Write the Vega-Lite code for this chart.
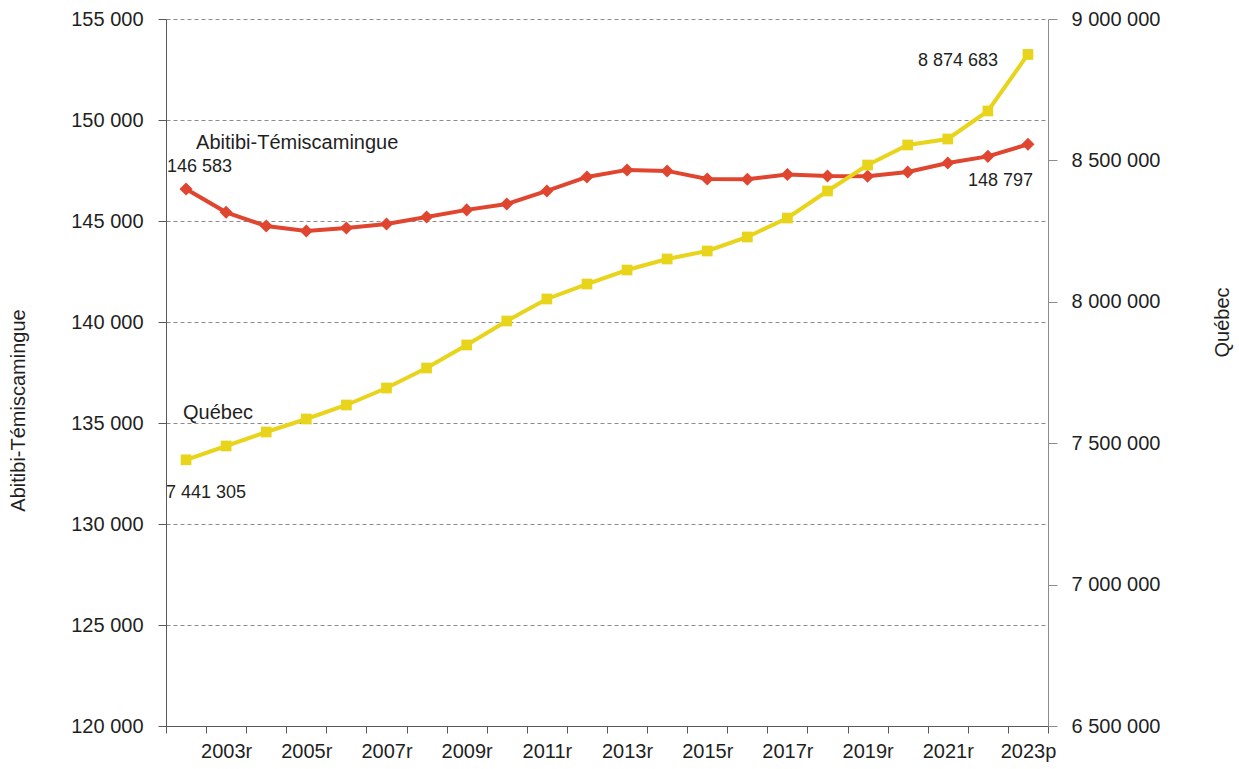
{
  "$schema": "https://vega.github.io/schema/vega-lite/v6.json",
  "width": 882,
  "height": 707,
  "autosize": "none",
  "padding": {"left": 166, "top": 19, "right": 191, "bottom": 43},
  "background": "white",
  "config": {
    "locale": {"number": {"decimal": ",", "thousands": " ", "grouping": [3], "currency": ["", " $"]}},
    "font": "Liberation Sans",
    "view": {"stroke": null},
    "axis": {
      "labelFont": "Liberation Sans",
      "titleFont": "Liberation Sans",
      "labelFontSize": 20,
      "titleFontSize": 20,
      "titleFontWeight": "normal",
      "labelColor": "#1f1f1f",
      "titleColor": "#1f1f1f"
    }
  },
  "datasets": {
    "pop": [
      {"year": 2002, "region": "Abitibi-Témiscamingue", "value": 146583},
      {"year": 2003, "region": "Abitibi-Témiscamingue", "value": 145430},
      {"year": 2004, "region": "Abitibi-Témiscamingue", "value": 144750},
      {"year": 2005, "region": "Abitibi-Témiscamingue", "value": 144500},
      {"year": 2006, "region": "Abitibi-Témiscamingue", "value": 144650},
      {"year": 2007, "region": "Abitibi-Témiscamingue", "value": 144850},
      {"year": 2008, "region": "Abitibi-Témiscamingue", "value": 145200},
      {"year": 2009, "region": "Abitibi-Témiscamingue", "value": 145550},
      {"year": 2010, "region": "Abitibi-Témiscamingue", "value": 145840},
      {"year": 2011, "region": "Abitibi-Témiscamingue", "value": 146490},
      {"year": 2012, "region": "Abitibi-Témiscamingue", "value": 147180},
      {"year": 2013, "region": "Abitibi-Témiscamingue", "value": 147530},
      {"year": 2014, "region": "Abitibi-Témiscamingue", "value": 147480},
      {"year": 2015, "region": "Abitibi-Témiscamingue", "value": 147080},
      {"year": 2016, "region": "Abitibi-Témiscamingue", "value": 147070},
      {"year": 2017, "region": "Abitibi-Témiscamingue", "value": 147300},
      {"year": 2018, "region": "Abitibi-Témiscamingue", "value": 147230},
      {"year": 2019, "region": "Abitibi-Témiscamingue", "value": 147220},
      {"year": 2020, "region": "Abitibi-Témiscamingue", "value": 147430},
      {"year": 2021, "region": "Abitibi-Témiscamingue", "value": 147870},
      {"year": 2022, "region": "Abitibi-Témiscamingue", "value": 148200},
      {"year": 2023, "region": "Abitibi-Témiscamingue", "value": 148797},
      {"year": 2002, "region": "Québec", "value": 7441305},
      {"year": 2003, "region": "Québec", "value": 7490100},
      {"year": 2004, "region": "Québec", "value": 7539600},
      {"year": 2005, "region": "Québec", "value": 7585600},
      {"year": 2006, "region": "Québec", "value": 7635100},
      {"year": 2007, "region": "Québec", "value": 7695200},
      {"year": 2008, "region": "Québec", "value": 7765900},
      {"year": 2009, "region": "Québec", "value": 7847300},
      {"year": 2010, "region": "Québec", "value": 7932100},
      {"year": 2011, "region": "Québec", "value": 8009900},
      {"year": 2012, "region": "Québec", "value": 8062900},
      {"year": 2013, "region": "Québec", "value": 8112400},
      {"year": 2014, "region": "Québec", "value": 8151400},
      {"year": 2015, "region": "Québec", "value": 8179600},
      {"year": 2016, "region": "Québec", "value": 8229200},
      {"year": 2017, "region": "Québec", "value": 8296300},
      {"year": 2018, "region": "Québec", "value": 8391800},
      {"year": 2019, "region": "Québec", "value": 8483700},
      {"year": 2020, "region": "Québec", "value": 8554500},
      {"year": 2021, "region": "Québec", "value": 8575700},
      {"year": 2022, "region": "Québec", "value": 8674700},
      {"year": 2023, "region": "Québec", "value": 8874683}
    ]
  },
  "data": {"name": "pop"},
  "encoding": {
    "x": {
      "field": "year",
      "type": "ordinal",
      "scale": {"type": "band", "paddingInner": 0, "paddingOuter": 0},
      "axis": {
        "title": null,
        "labelAngle": 0,
        "tickBand": "extent",
        "tickSize": 7,
        "tickColor": "#595959",
        "domainColor": "#595959",
        "labelPadding": 8,
        "grid": false,
        "labelExpr": "datum.value % 2 == 1 ? datum.value + (datum.value == 2023 ? 'p' : 'r') : ''"
      }
    }
  },
  "layer": [
    {
      "transform": [{"filter": "datum.region == 'Abitibi-Témiscamingue'"}],
      "encoding": {
        "y": {
          "field": "value",
          "type": "quantitative",
          "scale": {"domain": [120000, 155000], "nice": false, "zero": false},
          "axis": {
            "title": "Abitibi-Témiscamingue",
            "values": [120000, 125000, 130000, 135000, 140000, 145000, 150000, 155000],
            "format": ",d",
            "grid": true,
            "gridDash": [4, 3],
            "gridColor": "#8c8c8c",
            "gridWidth": 1,
            "domainColor": "#595959",
            "tickColor": "#595959",
            "tickSize": 8,
            "labelPadding": 15,
            "titleBaseline": "middle",
            "titleAngle": -90,
            "titleX": -148,
            "titleY": 391
          }
        }
      },
      "layer": [
        {"mark": {"type": "line", "color": "#E0452F", "strokeWidth": 4}},
        {"mark": {"type": "point", "shape": "diamond", "filled": true, "color": "#E0452F", "size": 170, "opacity": 1}},
        {
          "transform": [{"filter": "datum.year == 2002"}],
          "mark": {"type": "text", "align": "left", "baseline": "middle", "dx": -19, "dy": -22, "fontSize": 18, "color": "#1f1f1f", "font": "Liberation Sans"},
          "encoding": {"text": {"field": "value", "type": "quantitative", "format": ",d"}}
        },
        {
          "transform": [{"filter": "datum.year == 2002"}],
          "mark": {"type": "text", "align": "left", "baseline": "middle", "dx": 10, "dy": -46, "fontSize": 20, "color": "#1f1f1f", "font": "Liberation Sans"},
          "encoding": {"text": {"field": "region"}}
        },
        {
          "transform": [{"filter": "datum.year == 2023"}],
          "mark": {"type": "text", "align": "right", "baseline": "middle", "dx": 5, "dy": 37, "fontSize": 18, "color": "#1f1f1f", "font": "Liberation Sans"},
          "encoding": {"text": {"field": "value", "type": "quantitative", "format": ",d"}}
        }
      ]
    },
    {
      "transform": [{"filter": "datum.region == 'Québec'"}],
      "encoding": {
        "y": {
          "field": "value",
          "type": "quantitative",
          "scale": {"domain": [6500000, 9000000], "nice": false, "zero": false},
          "axis": {
            "orient": "right",
            "title": "Québec",
            "values": [6500000, 7000000, 7500000, 8000000, 8500000, 9000000],
            "format": ",d",
            "grid": false,
            "domainColor": "#8c8c8c",
            "tickColor": "#8c8c8c",
            "tickSize": 9,
            "labelPadding": 14,
            "titleBaseline": "middle",
            "titleAngle": -90,
            "titleX": 174,
            "titleY": 303
          }
        }
      },
      "layer": [
        {"mark": {"type": "line", "color": "#E8D41A", "strokeWidth": 4}},
        {"mark": {"type": "point", "shape": "square", "filled": true, "color": "#E8D41A", "size": 115, "opacity": 1}},
        {
          "transform": [{"filter": "datum.year == 2002"}],
          "mark": {"type": "text", "align": "left", "baseline": "middle", "dx": -20, "dy": 33, "fontSize": 18, "color": "#1f1f1f", "font": "Liberation Sans"},
          "encoding": {"text": {"field": "value", "type": "quantitative", "format": ",d"}}
        },
        {
          "transform": [{"filter": "datum.year == 2002"}],
          "mark": {"type": "text", "align": "left", "baseline": "middle", "dx": -3, "dy": -47, "fontSize": 20, "color": "#1f1f1f", "font": "Liberation Sans"},
          "encoding": {"text": {"field": "region"}}
        },
        {
          "transform": [{"filter": "datum.year == 2023"}],
          "mark": {"type": "text", "align": "right", "baseline": "middle", "dx": -30, "dy": 7, "fontSize": 18, "color": "#1f1f1f", "font": "Liberation Sans"},
          "encoding": {"text": {"field": "value", "type": "quantitative", "format": ",d"}}
        }
      ]
    }
  ],
  "resolve": {"scale": {"y": "independent"}}
}
